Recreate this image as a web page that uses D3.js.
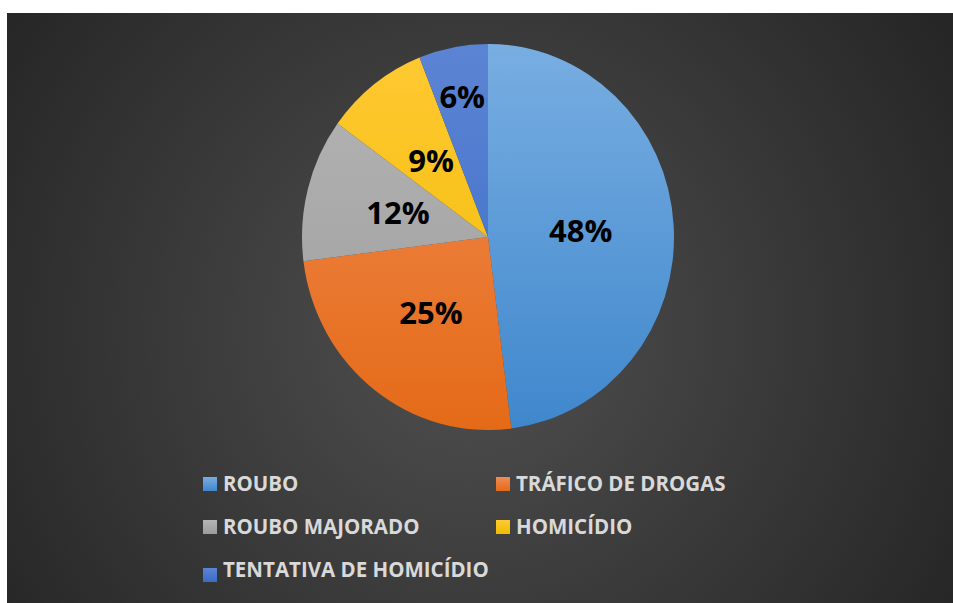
<!DOCTYPE html>
<html>
<head>
<meta charset="utf-8">
<script src="https://cdn.jsdelivr.net/npm/d3@7"></script>
<style>
  html, body { margin: 0; padding: 0; background: #fff; }
  svg { display: block; }
</style>
</head>
<body>
<div id="visbox"></div>
<script>
const categories = ["ROUBO", "TRÁFICO DE DROGAS", "ROUBO MAJORADO", "HOMICÍDIO", "TENTATIVA DE HOMICÍDIO"];
const values = [48, 25, 12, 9, 6];
const labels = ["48%", "25%", "12%", "9%", "6%"];
const colorsTop = ["#78aee2", "#f28c55", "#b5b5b5", "#ffc933", "#5c84d4"];
const colorsBottom = ["#3f87cc", "#e46a17", "#9c9c9c", "#efbb00", "#3a6cc6"];

const width = 953, height = 603;
const cx = 488, cy = 237, r = 186, yStretch = 1.038;

const svg = d3.select("#visbox").append("svg")
  .attr("width", width)
  .attr("height", height);

const defs = svg.append("defs");
const bg = defs.append("radialGradient")
  .attr("id", "bg")
  .attr("gradientUnits", "userSpaceOnUse")
  .attr("cx", 470).attr("cy", 330).attr("r", 560);
bg.append("stop").attr("offset", "0%").attr("stop-color", "#505050");
bg.append("stop").attr("offset", "100%").attr("stop-color", "#262626");

categories.forEach((c, i) => {
  const g = defs.append("linearGradient")
    .attr("id", "slice" + i)
    .attr("gradientUnits", "userSpaceOnUse")
    .attr("x1", 0).attr("y1", -r).attr("x2", 0).attr("y2", r);
  g.append("stop").attr("offset", "0%").attr("stop-color", colorsTop[i]);
  g.append("stop").attr("offset", "100%").attr("stop-color", colorsBottom[i]);

  const l = defs.append("linearGradient")
    .attr("id", "leg" + i)
    .attr("x1", 0).attr("y1", 0).attr("x2", 0).attr("y2", 1);
  l.append("stop").attr("offset", "0%").attr("stop-color", colorsTop[i]);
  l.append("stop").attr("offset", "100%").attr("stop-color", colorsBottom[i]);
});

svg.append("rect")
  .attr("x", 7).attr("y", 13)
  .attr("width", width - 7).attr("height", height - 13)
  .attr("fill", "url(#bg)");

const pie = d3.pie().sort(null).value(d => d)(values);
const arc = d3.arc().innerRadius(0).outerRadius(r);

const chart = svg.append("g")
  .attr("transform", `translate(${cx},${cy})`);

chart.append("g")
  .attr("transform", `scale(1,${yStretch})`)
  .selectAll("path")
  .data(pie)
  .join("path")
  .attr("d", arc)
  .attr("fill", (d, i) => `url(#slice${i})`);

// small slices get their label pushed outward, like Excel's best fit
const labelPos = d => {
  const span = d.endAngle - d.startAngle;
  const lr = span < 0.5 ? r * 0.74 : r * 0.5;
  const a = (d.startAngle + d.endAngle) / 2;
  return [Math.sin(a) * lr, -Math.cos(a) * lr * yStretch];
};

chart.append("g")
  .selectAll("text")
  .data(pie)
  .join("text")
  .attr("x", d => labelPos(d)[0])
  .attr("y", d => labelPos(d)[1])
  .attr("text-anchor", "middle")
  .attr("dy", "0.36em")
  .style("font-family", "'Open Sans', sans-serif")
  .style("font-weight", 700)
  .style("font-size", "31px")
  .attr("fill", "#000")
  .text((d, i) => labels[i]);

// legend
const legendX = [203, 496];
const legendY = [491, 534, 577];
const legend = svg.append("g").attr("class", "legend");
const items = legend.selectAll("g")
  .data(categories)
  .join("g")
  .attr("transform", (d, i) => `translate(${legendX[i % 2]},${legendY[Math.floor(i / 2)]})`);

items.append("rect")
  .attr("x", 0)
  .attr("y", (d, i) => i === 4 ? -9 : -14)
  .attr("width", 14)
  .attr("height", 14)
  .attr("fill", (d, i) => `url(#leg${i})`);

items.append("text")
  .attr("x", 20)
  .attr("y", 0)
  .style("font-family", "'Open Sans', sans-serif")
  .style("font-weight", 700)
  .style("font-size", "20.5px")
  .attr("fill", "#d9d9d9")
  .text(d => d);
</script>
</body>
</html>
